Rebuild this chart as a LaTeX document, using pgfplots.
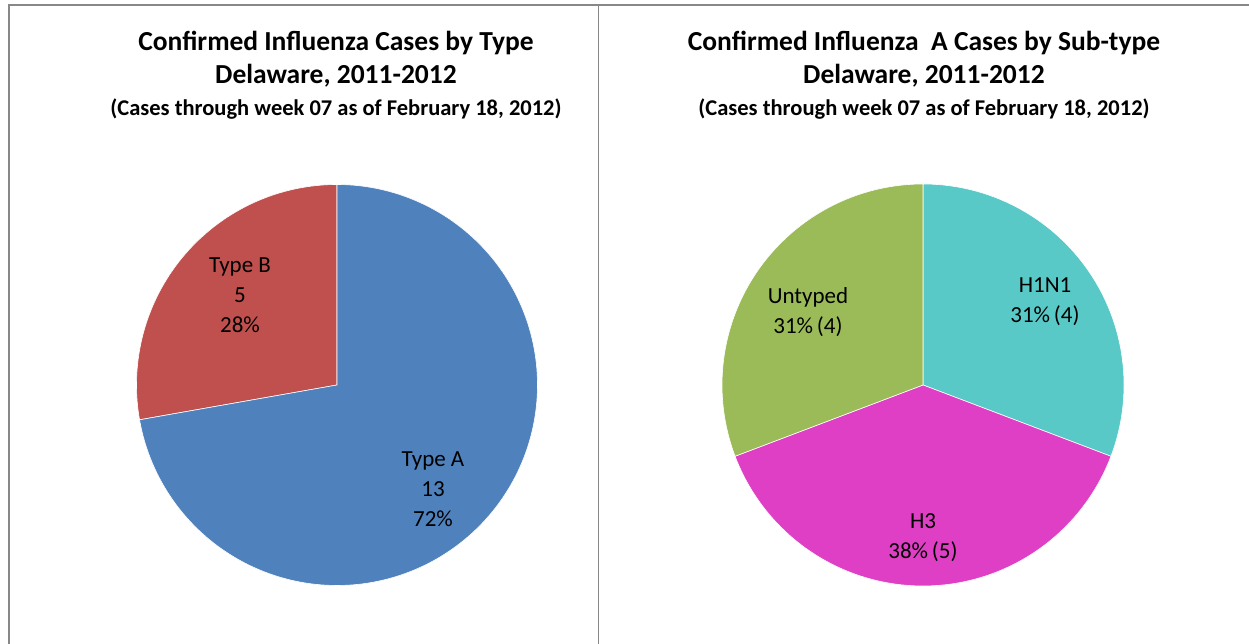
\documentclass[border=0pt]{standalone}
\usepackage{pgfplots}
\pgfplotsset{compat=1.18}
\usepackage{fontspec}
\setmainfont{Carlito}
\definecolor{cA}{HTML}{4F81BD}
\definecolor{cB}{HTML}{C0504D}
\definecolor{cH1}{HTML}{58C9C6}
\definecolor{cH3}{HTML}{DF3FC5}
\definecolor{cU}{HTML}{9BBB59}
\definecolor{frame}{HTML}{888888}
% data
\def\TypeA{13}
\def\TypeB{5}
\def\HoneNone{4}
\def\Hthree{5}
\def\Untyped{4}
\begin{document}
\begin{tikzpicture}[x=1bp,y=1bp]
\path[use as bounding box] (0,0) rectangle (1249,644);
% frame
\draw[frame, line width=2bp] (8.5,0) -- (8.5,639) -- (1249,639);
\draw[frame, line width=1.5bp] (598.5,639) -- (598.5,0);
% titles
\tikzset{t1/.style={font=\fontsize{27.5bp}{30bp}\selectfont\bfseries, anchor=base},
         t3/.style={font=\fontsize{22.5bp}{24bp}\selectfont\bfseries, anchor=base}}
\node[t1] at (336,593) {Confirmed Influenza Cases by Type};
\node[t1] at (336,560) {Delaware, 2011-2012};
\node[t3] at (336,528) {(Cases through week 07 as of February 18, 2012)};
\node[t1] at (924,593) {Confirmed Influenza\ \ A Cases by Sub-type};
\node[t1] at (924,560) {Delaware, 2011-2012};
\node[t3] at (924,528) {(Cases through week 07 as of February 18, 2012)};
% left pie
\pgfmathsetmacro{\totL}{\TypeA+\TypeB}
\pgfmathsetmacro{\aB}{90+360*\TypeB/\totL}
\begin{axis}[at={(337bp,259bp)}, anchor=center, scale only axis, width=401bp, height=401bp,
  xmin=-1, xmax=1, ymin=-1, ymax=1, hide axis, clip=false]
\addplot[fill=cB, draw=white, line width=0.6bp, domain=90:\aB, samples=80] ({cos(x)},{sin(x)}) -- (0,0) -- cycle;
\addplot[fill=cA, draw=white, line width=0.6bp, domain=\aB:450, samples=160] ({cos(x)},{sin(x)}) -- (0,0) -- cycle;
\end{axis}
\begin{scope}[every node/.style={font=\fontsize{23bp}{30bp}\selectfont, align=center}]
\node at (240,349) {Type B\\5\\28\%};
\node at (433,155) {Type A\\13\\72\%};
\end{scope}
% right pie
\pgfmathsetmacro{\totR}{\HoneNone+\Hthree+\Untyped}
\pgfmathsetmacro{\aone}{90-360*\HoneNone/\totR}
\pgfmathsetmacro{\atwo}{\aone-360*\Hthree/\totR}
\begin{axis}[at={(923bp,259bp)}, anchor=center, scale only axis, width=402bp, height=402bp,
  xmin=-1, xmax=1, ymin=-1, ymax=1, hide axis, clip=false]
\addplot[fill=cH1, draw=white, line width=0.6bp, domain=\aone:90, samples=80] ({cos(x)},{sin(x)}) -- (0,0) -- cycle;
\addplot[fill=cH3, draw=white, line width=0.6bp, domain=\atwo:\aone, samples=80] ({cos(x)},{sin(x)}) -- (0,0) -- cycle;
\addplot[fill=cU, draw=white, line width=0.6bp, domain=-270:\atwo, samples=80] ({cos(x)},{sin(x)}) -- (0,0) -- cycle;
\end{axis}
\begin{scope}[every node/.style={font=\fontsize{23bp}{30bp}\selectfont, align=center}]
\node at (1045,342) {H1N1\\31\%\,(4)};
\node at (808,332) {Untyped\\31\%\,(4)};
\node at (923,106) {H3\\38\%\,(5)};
\end{scope}
\end{tikzpicture}
\end{document}
